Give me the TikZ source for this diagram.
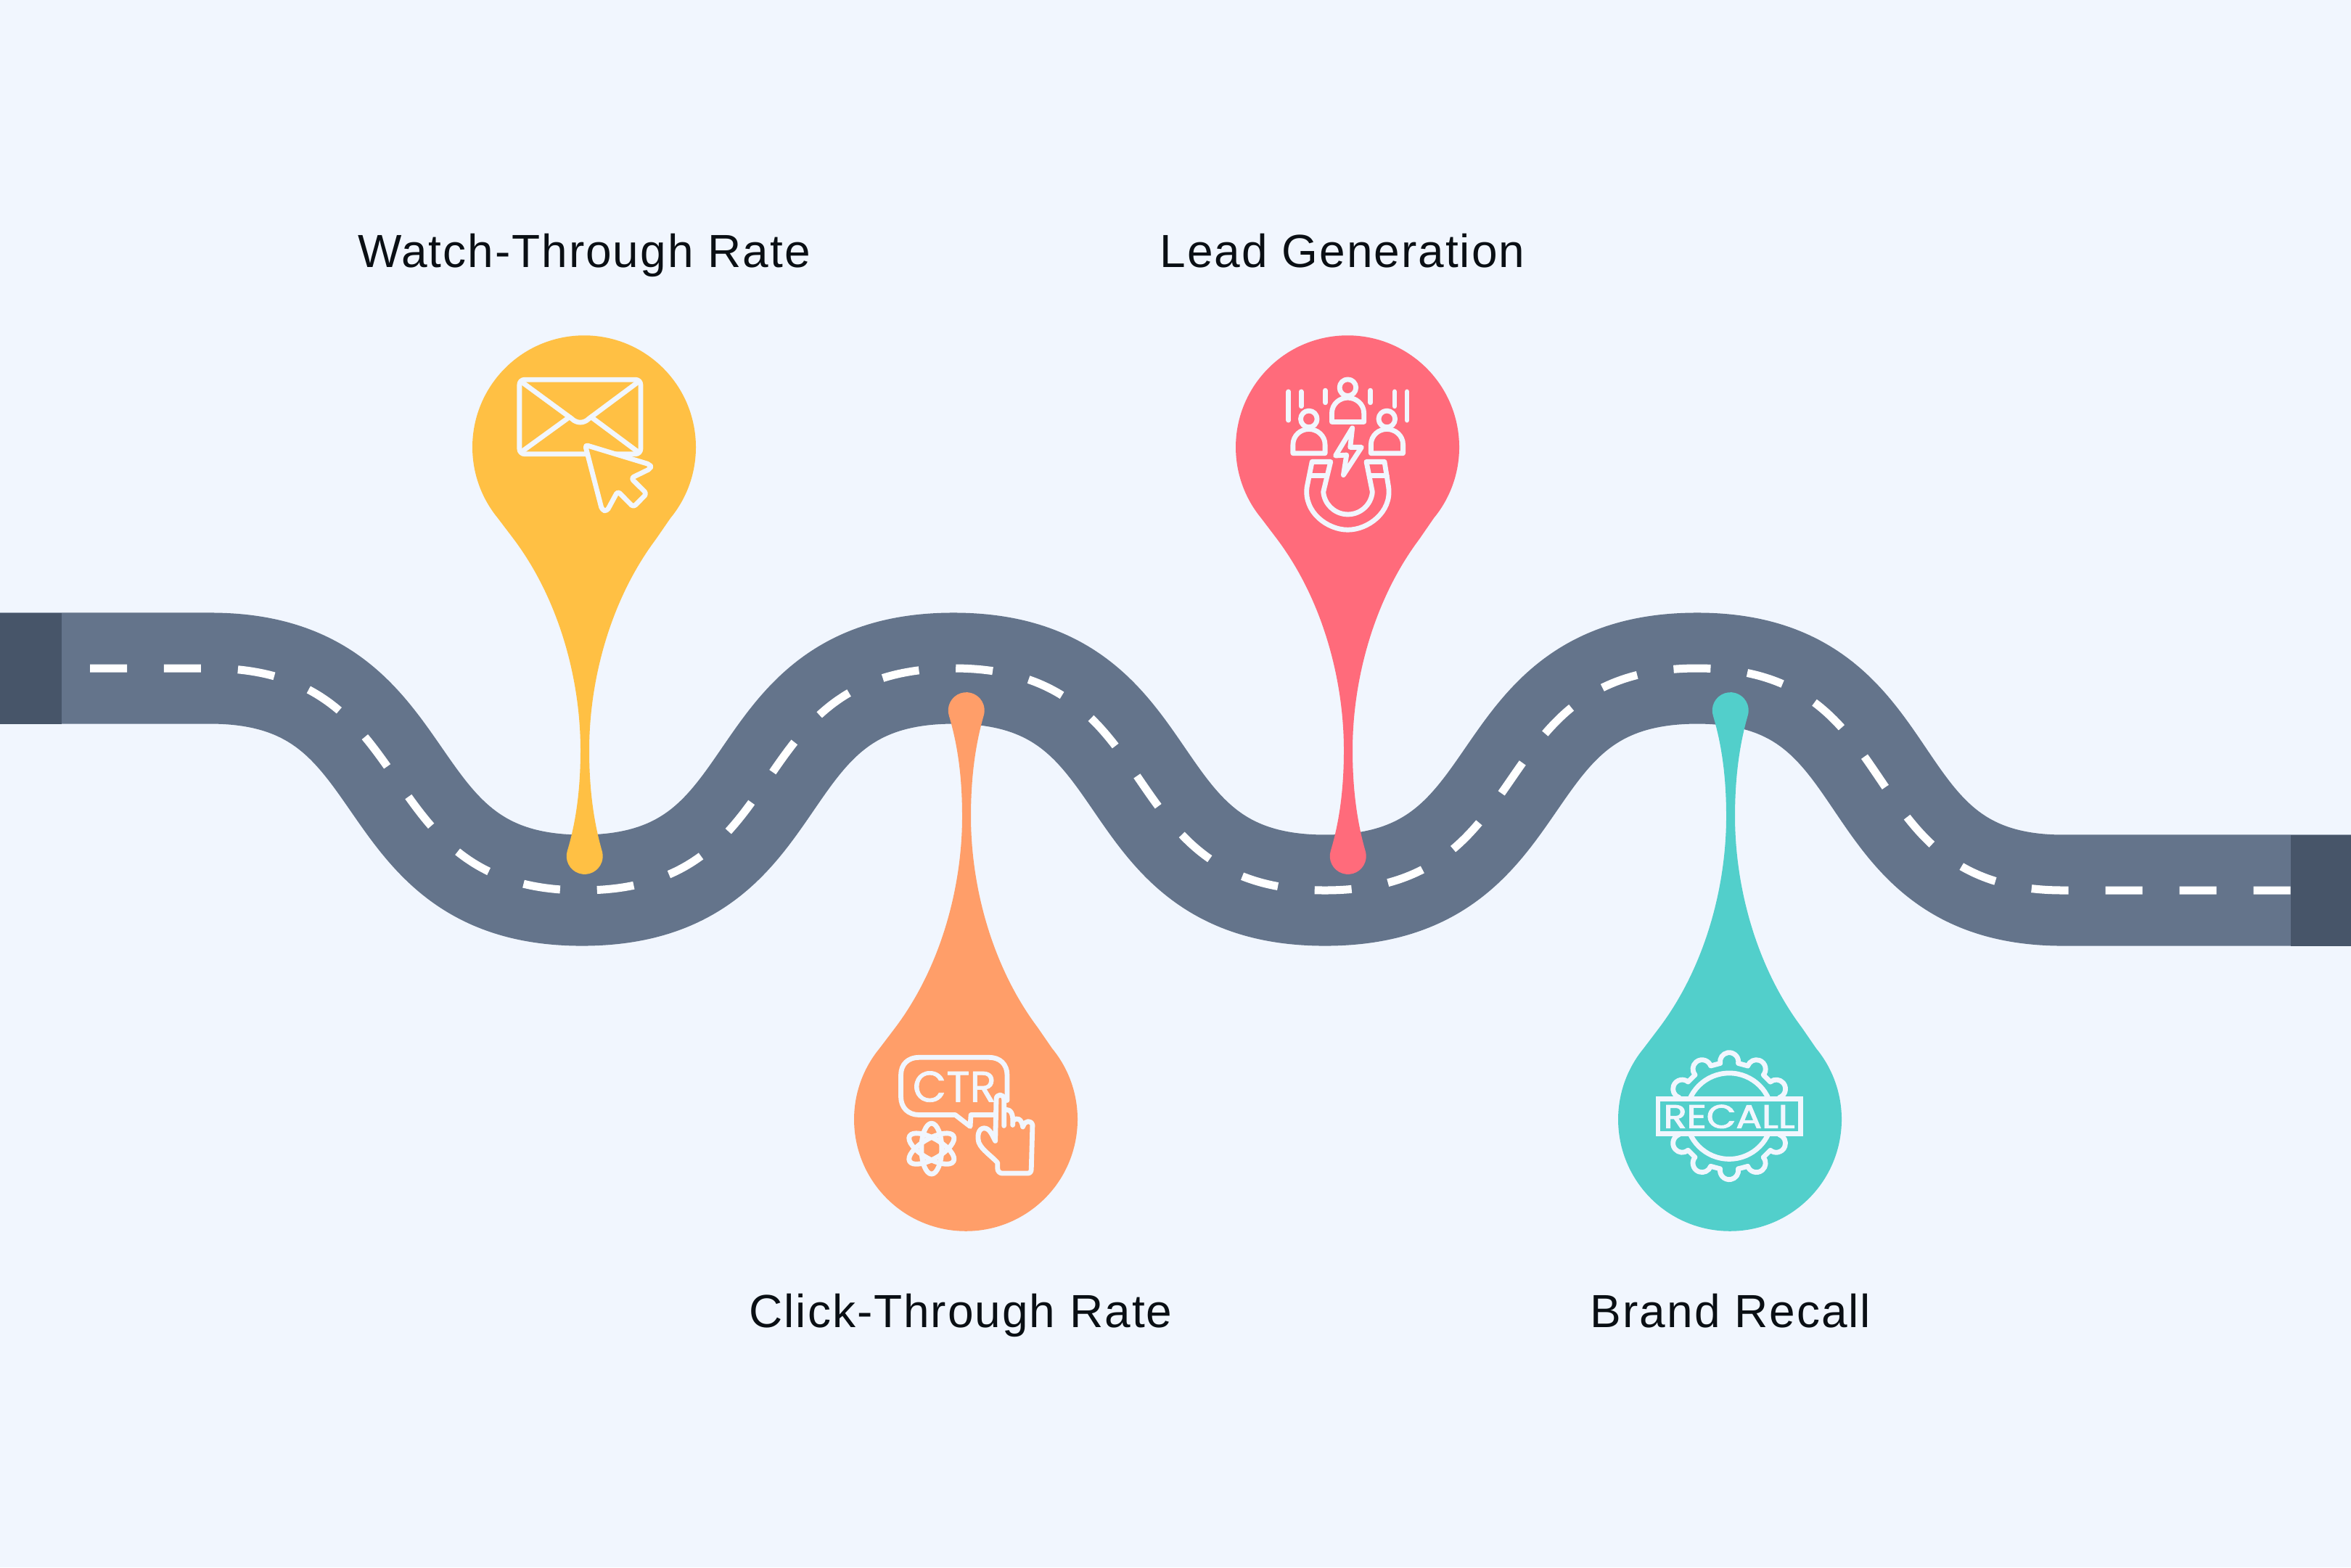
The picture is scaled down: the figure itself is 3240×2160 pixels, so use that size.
\documentclass[tikz,border=0pt]{standalone}
\usepackage{fontspec}
\usepackage{graphicx}
\setmainfont[LetterSpace=3.1]{Liberation Sans}
\newfontfamily\iconfont[FakeBold=1.2]{Poppins}
\newfontfamily\bannerfont[FakeBold=2.2]{Poppins}
\usetikzlibrary{positioning}

\definecolor{paper}{HTML}{F1F6FE}
\definecolor{asphalt}{HTML}{64748B}
\definecolor{roadend}{HTML}{475569}
\definecolor{pinyellow}{HTML}{FFC044}
\definecolor{pinorange}{HTML}{FF9E69}
\definecolor{pinred}{HTML}{FF6B7B}
\definecolor{pinteal}{HTML}{52CFCB}
\definecolor{ink}{HTML}{0A0F14}

\begin{document}
\begin{tikzpicture}[
        x=0.01cm, y=-0.01cm,
        title/.style={font=\fontsize{18.2}{20}\selectfont, text=ink, inner sep=0pt, anchor=base},
        road/.style={draw=asphalt, line width=1.53cm},
        laneline/.style={draw=white, line width=0.11cm, dash pattern=on 0.51cm off 0.509cm},
        iconline/.style={draw=paper, line width=0.068cm, line cap=round, line join=round},
        icontext/.style={text=paper, inner sep=0pt},
        zoomed/.style={x=0.003333cm, y=-0.003333cm},
        droplet/.pic={
            \fill[pic actions] (118,97) arc[start angle=39.4, end angle=-219.4, radius=154]
                -- (-98,126) .. controls (-35,210) and (-6,320) .. (-6,417)
                .. controls (-6,470) and (-12,515) .. (-24,555)
                arc[start angle=198.4, end angle=-18.4, radius=25]
                .. controls (12,515) and (6,470) .. (6,417)
                .. controls (6,320) and (35,210) .. (98,126) -- cycle;
        }
    ]

    \useasboundingbox (0,0) rectangle (3240,2160);
    \fill[paper] (0,0) rectangle (3240,2160);

    % The road
    \draw[road] (0,921) -- (290,921)
        .. controls (590,921) and (502,1227) .. (802,1227)
        .. controls (1104,1227) and (1012,921) .. (1314,921)
        .. controls (1616,921) and (1524,1227) .. (1826,1227)
        .. controls (2128,1227) and (2037,921) .. (2339,921)
        .. controls (2636,921) and (2546,1227) .. (2843,1227) -- (3240,1227);
    \fill[roadend] (0,845) rectangle (85,998);
    \fill[roadend] (3157,1151) rectangle (3240,1304);
    \draw[laneline] (124,921) -- (290,921)
        .. controls (590,921) and (502,1227) .. (802,1227)
        .. controls (1104,1227) and (1012,921) .. (1314,921)
        .. controls (1616,921) and (1524,1227) .. (1826,1227)
        .. controls (2128,1227) and (2037,921) .. (2339,921)
        .. controls (2636,921) and (2546,1227) .. (2843,1227) -- (3157,1227);

    % The pins
    \pic[pinyellow] at (806,617) {droplet};
    \pic[pinred] at (1858,617) {droplet};
    \pic[pinorange, yscale=-1] at (1332,1542) {droplet};
    \pic[pinteal, yscale=-1] at (2385,1542) {droplet};

    % Envelope and cursor
    \begin{scope}[shift={(620,440)}, zoomed]
        \draw[iconline, rounded corners=0.07cm] (288,250) rectangle (790,558);
        \draw[iconline] (295,258) -- (505,412) .. controls (525,432) and (555,432) .. (575,412) -- (782,258);
        \draw[iconline] (295,550) -- (495,405);
        \draw[iconline] (585,405) -- (780,550);
        \draw[iconline, fill=pinyellow, rounded corners=0.04cm] (560,520) -- (830,602) -- (832,618) -- (750,658) -- (815,722)
            -- (760,778) -- (695,712) -- (650,795) -- (630,790) -- cycle;
    \end{scope}

    % People and magnet
    \begin{scope}[shift={(1680,440)}, zoomed]
        \foreach \dx/\dy in {0/0, -161/130, 162/130} {
            \draw[iconline] (533+\dx,283+\dy) circle[radius=34];
            \draw[iconline] (467+\dx,425+\dy) -- (467+\dx,390+\dy)
                .. controls (467+\dx,350+\dy) and (500+\dx,325+\dy) .. (533+\dx,325+\dy)
                .. controls (566+\dx,325+\dy) and (600+\dx,350+\dy) .. (600+\dx,390+\dy)
                -- (600+\dx,425+\dy) -- cycle;
        }
        \foreach \lx/\ly/\lz in {288/300/418, 340/300/360, 440/295/345, 627/295/345, 727/300/360, 778/300/418}
            \draw[iconline] (\lx,\ly) -- (\lx,\lz);
        \draw[iconline] (552,450) -- (482,565) -- (528,562) -- (515,645) -- (590,530) -- (543,530) -- cycle;
        \draw[iconline] (385,590) -- (364,695) .. controls (350,800) and (450,872) .. (533,872)
            .. controls (616,872) and (716,800) .. (702,695)
            -- (685,590) -- (610,590) -- (635,715) arc[start angle=5, end angle=175, radius=102]
            -- (462,590) -- cycle;
        \draw[iconline] (375,648) -- (442,648);
        \draw[iconline] (623,648) -- (695,648);
    \end{scope}

    % Speech bubble, atom and hand
    \begin{scope}[shift={(1160,1420)}, zoomed]
        \draw[iconline] (630,350) -- (535,350) -- (532,398) -- (470,350) -- (320,350)
            .. controls (275,350) and (245,320) .. (245,275) -- (245,185)
            .. controls (245,140) and (275,112) .. (320,112) -- (610,112)
            .. controls (655,112) and (685,140) .. (685,185) -- (685,290);
        \node[icontext] (ctr) at (467,233) {\resizebox{1.15cm}{0.42cm}{\iconfont CTR}};
        \foreach \tilt in {90, 30, -30}
            \draw[iconline] (372,490) ellipse[x radius=105, y radius=42, rotate=\tilt];
        \draw[iconline] (672,395) -- (672,285) .. controls (672,262) and (640,262) .. (640,285)
            -- (636,458) .. controls (625,440) and (615,405) .. (590,405)
            .. controls (565,405) and (560,440) .. (568,465)
            .. controls (580,495) and (620,520) .. (645,548) -- (645,570)
            .. controls (645,585) and (655,592) .. (665,592) -- (770,592)
            .. controls (780,592) and (785,585) .. (785,575) -- (790,392)
            .. controls (785,372) and (760,372) .. (752,395);
        \draw[iconline] (750,400) .. controls (745,365) and (725,360) .. (712,372);
        \draw[iconline] (708,392) .. controls (712,345) and (700,328) .. (680,328);
    \end{scope}

    % Gear and banner
    \begin{scope}[shift={(2220,1420)}, zoomed]
        \foreach \a in {0,30,...,330}
            \draw[iconline, shift={(490,355)}] (\a:225) ++({\a-100}:38)
                arc[start angle={\a-100}, end angle={\a+100}, radius=38]
                -- ({225*cos(\a+30)+38*cos(\a-70)}, {225*sin(\a+30)+38*sin(\a-70)});
        \draw[iconline] (490,355) circle[radius=178];
        \draw[iconline, fill=pinteal, line join=miter] (195,283) rectangle (785,428);
        \node[icontext] (recall) at (490,357) {\resizebox{1.81cm}{0.32cm}{\bannerfont RECALL}};
    \end{scope}

    % The labels
    \node[title] (watch) at (805,368) {Watch-Through Rate};
    \node[title] (lead) at (1850,368) {Lead Generation};
    \node[title] (click) at (1324,1829) {Click-Through Rate};
    \node[title] (brand) at (2385,1829) {Brand Recall};

\end{tikzpicture}
\end{document}
